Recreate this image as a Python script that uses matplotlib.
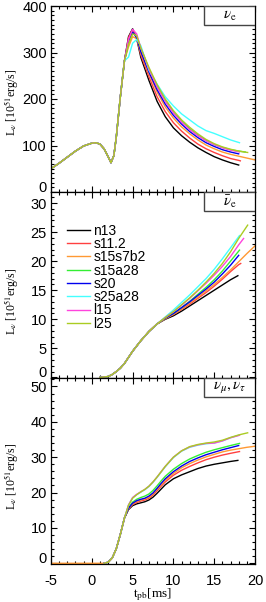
import numpy as np
import matplotlib
matplotlib.use("Agg")
import matplotlib.pyplot as plt
from matplotlib.patches import Rectangle
from matplotlib.ticker import MultipleLocator
import matplotlib.transforms as mtransforms

plt.rcParams["font.family"] = ["Liberation Sans", "DejaVu Sans"]
plt.rcParams["mathtext.fontset"] = "stix"
plt.rcParams["axes.unicode_minus"] = False

models = ["n13", "s11.2", "s15s7b2", "s15a28", "s20", "s25a28", "l15", "l25"]
colors = ["#000000", "#ff4040", "#ff9933", "#33ee33", "#0000ee", "#44ffff", "#ff44dd", "#aacc22"]

# nu_e : common early part, then per-model values on a grid
nue_t_rise = [-5, -4, -3, -2, -1, 0, 0.5, 1, 1.5, 2, 2.35, 2.7, 3.0, 3.5, 4.0]
nue_rise = [50, 62, 75, 88, 99, 105, 106, 103, 93, 76, 63, 78, 118, 205, 282]
nue_t_grid = [4.5, 5, 5.5, 6, 7, 8, 9, 10, 11, 12, 13, 14, 15, 16, 17, 18, 19]
nue_n13 = [334, 351, 330, 290, 240, 195, 162, 138, 121, 107, 95, 85, 76, 69, 63]
nue_s112 = [332, 349, 332, 295, 248, 205, 173, 149, 131, 116, 103, 93, 85, 78, 72, 68]
nue_s15s7b2 = [312, 334, 330, 300, 255, 215, 183, 159, 140, 125, 112, 101, 93, 86, 81, 77, 73]
nue_s15a28 = [320, 342, 335, 308, 264, 227, 197, 172, 152, 136, 122, 111, 102, 96, 91, 88]
nue_s20 = [325, 344, 332, 302, 258, 220, 189, 165, 146, 130, 117, 106, 98, 91, 86]
nue_s25a28 = [290, 320, 328, 315, 262, 232, 205, 185, 168, 155, 142, 132, 126, 119, 112]
nue_l15 = [328, 350, 340, 310, 265, 226, 195, 170, 150, 134, 121, 110, 102, 95, 90]
nue_l25 = [318, 340, 336, 310, 268, 231, 200, 175, 155, 139, 125, 113, 104, 97, 92, 88]
nue_end_t = [18, 18.2, 20, 18.8, 18, 18.1, 18.1, 19.1]
nue_end = [58, 67, 69, 86, 82, 106, 86, 85]

# anti nu_e
anue_t_rise = [1, 2, 2.5, 3, 3.5, 4, 5, 6, 7, 8]
anue_rise = [0, 0.15, 0.5, 1.0, 1.6, 2.4, 4.5, 6.3, 7.9, 9.2]
anue_t_grid = [9, 10, 11, 12, 13, 14, 15, 16, 17, 18, 19]
anue_n13 = [10.0, 10.6, 11.4, 12.3, 13.2, 14.1, 15.0, 15.9, 16.8]
anue_s112 = [10.1, 10.8, 11.7, 12.6, 13.6, 14.6, 15.7, 16.9, 18.2, 19.4]
anue_s15s7b2 = [10.1, 10.9, 11.8, 12.8, 13.8, 14.9, 16.0, 17.2, 18.5, 19.9, 21.3]
anue_s15a28 = [10.2, 11.0, 12.0, 13.1, 14.3, 15.5, 16.8, 18.3, 20.0]
anue_s20 = [10.2, 11.0, 12.0, 13.0, 14.1, 15.2, 16.4, 17.8, 19.3]
anue_s25a28 = [10.4, 11.6, 12.9, 14.2, 15.6, 17.0, 18.6, 20.4, 22.3]
anue_l15 = [10.3, 11.3, 12.4, 13.6, 14.9, 16.2, 17.6, 19.1, 20.8, 22.8]
anue_l25 = [10.3, 11.3, 12.5, 13.7, 15.0, 16.4, 17.9, 19.6, 21.6, 23.9]
anue_end_t = [17.9, 18.25, 20.2, 18.1, 18, 18.1, 18.6, 19.1]
anue_end = [17.5, 19.6, 22.9, 21.9, 21.0, 24.4, 23.9, 26.2]

# nu_mu, nu_tau
numu_t_rise = [1.5, 2, 2.5, 3, 3.5, 4]
numu_rise = [0, 0.3, 1.5, 4.1, 8.2, 12.8]
numu_t_grid = [4.5, 5, 5.5, 6, 6.5, 7, 7.5, 8, 8.5, 9, 10, 11, 12, 13, 14, 15, 16, 17, 18, 19]
numu_n13 = [15.2, 16.3, 16.8, 17.1, 17.4, 17.9, 18.7, 19.8, 21.0, 22.2, 23.9, 25.0, 25.9, 26.8, 27.5, 28.0, 28.4, 28.8]
numu_s112 = [15.4, 16.6, 17.2, 17.6, 17.9, 18.4, 19.3, 20.5, 21.8, 23.0, 24.9, 26.3, 27.4, 28.4, 29.3, 30.0, 30.6, 31.1]
numu_s15s7b2 = [15.5, 16.8, 17.5, 17.9, 18.2, 18.7, 19.6, 20.9, 22.2, 23.5, 25.4, 27.0, 28.2, 29.2, 30.1, 30.8, 31.5, 32.0, 32.4, 32.8]
numu_s15a28 = [15.7, 17.3, 18.1, 18.6, 19.0, 19.6, 20.6, 21.9, 23.3, 24.6, 26.6, 28.2, 29.5, 30.5, 31.4, 32.1, 32.7, 33.3]
numu_s20 = [15.6, 17.0, 17.7, 18.1, 18.4, 19.0, 19.9, 21.2, 22.6, 23.9, 25.9, 27.5, 28.8, 29.8, 30.7, 31.4, 32.1, 32.7]
numu_s25a28 = [16.5, 18.5, 19.4, 20.1, 20.8, 21.7, 22.9, 24.3, 25.8, 27.3, 29.9, 31.7, 32.8, 33.4, 33.8, 34.0, 34.6, 35.5]
numu_l15 = [16.5, 18.6, 19.5, 20.2, 20.9, 21.8, 23.0, 24.4, 25.9, 27.4, 30.0, 31.8, 32.9, 33.5, 33.9, 34.0, 34.6, 35.5]
numu_l25 = [16.4, 18.4, 19.4, 20.2, 20.9, 21.8, 23.0, 24.4, 25.9, 27.4, 30.0, 31.8, 33.0, 33.6, 34.0, 34.3, 34.8, 35.6, 36.3]
numu_end_t = [17.9, 18.1, 20, 18.1, 18, 18, 18.1, 19.1]
numu_end = [29.1, 31.6, 33.1, 33.9, 33.3, 36.2, 36.2, 36.9]

panels = [
    (nue_t_rise, nue_rise, nue_t_grid,
     [nue_n13, nue_s112, nue_s15s7b2, nue_s15a28, nue_s20, nue_s25a28, nue_l15, nue_l25],
     nue_end_t, nue_end, r"$\nu_{\rm e}$", (0, 400), 100, 10, 0.48),
    (anue_t_rise, anue_rise, anue_t_grid,
     [anue_n13, anue_s112, anue_s15s7b2, anue_s15a28, anue_s20, anue_s25a28, anue_l15, anue_l25],
     anue_end_t, anue_end, r"$\bar{\nu}_{\rm e}$", (-0.1, 31.9), 5, 1, 0.41),
    (numu_t_rise, numu_rise, numu_t_grid,
     [numu_n13, numu_s112, numu_s15s7b2, numu_s15a28, numu_s20, numu_s25a28, numu_l15, numu_l25],
     numu_end_t, numu_end, r"$\nu_\mu,\nu_\tau$", (-0.2, 52.4), 10, 2, 0.47),
]

fig = plt.figure(figsize=(2.66, 6.02), dpi=100)
left, width, height = 51 / 266, 204 / 266, 186 / 602
bottoms = [1 - 192 / 602, 1 - 378 / 602, 1 - 564 / 602]

for k, (t_rise, v_rise, t_grid, series, end_t, end_v, tag, ylim, major, minor, ylab_y) in enumerate(panels):
    ax = fig.add_axes([left, bottoms[k], width, height])
    for i, vals in enumerate(series):
        t = list(t_rise) + list(t_grid[:len(vals)]) + [end_t[i]]
        v = list(v_rise) + list(vals) + [end_v[i]]
        if k == 2 and models[i] == "s15s7b2":
            t = [-5] + t
            v = [0] + v
        ax.plot(t, v, color=colors[i], lw=1.0, label=models[i])

    ax.set_xlim(-5, 20)
    ax.set_ylim(*ylim)
    ax.xaxis.set_major_locator(MultipleLocator(5))
    ax.xaxis.set_minor_locator(MultipleLocator(1))
    ax.yaxis.set_major_locator(MultipleLocator(major))
    ax.yaxis.set_minor_locator(MultipleLocator(minor))
    ax.tick_params(which="both", direction="in", top=True, right=True, labelsize=10.5, width=0.8)
    ax.tick_params(which="major", length=4)
    ax.tick_params(which="minor", length=2)
    ax.tick_params(axis="y", pad=3)
    ax.tick_params(axis="x", pad=7)
    for s in ax.spines.values():
        s.set_linewidth(0.9)

    # shift the "0" label up a little as in the original
    fig.canvas.draw()
    for lab in ax.get_yticklabels():
        if lab.get_text() == "0":
            lab.set_transform(lab.get_transform() + mtransforms.ScaledTranslation(0, 4 / 72, fig.dpi_scale_trans))

    if k < 2:
        ax.tick_params(axis="x", labelbottom=False)
    else:
        ax.set_xlabel(r"t$_{\rm pb}$[ms]", family="Liberation Serif", fontsize=9.5, labelpad=-1)

    ax.set_ylabel(r"L$_\nu$ [10$^{51}$erg/s]", family="Liberation Serif", fontsize=8.5)
    ax.yaxis.set_label_coords(-0.15, ylab_y)

    ax.add_patch(Rectangle((0.75, 0.898), 0.25, 0.102, transform=ax.transAxes,
                           facecolor="white", edgecolor="#444444", lw=1.0, zorder=5))
    ax.text(0.875, 0.949, tag, transform=ax.transAxes, ha="center", va="center",
            fontsize=11, zorder=6)

    if k == 1:
        ax.legend(loc="upper left", bbox_to_anchor=(0.078, 0.83), frameon=False,
                  fontsize=10, labelspacing=-0.05, handlelength=1.65, handletextpad=0.25,
                  borderpad=0, borderaxespad=0)

fig.savefig("out.png", dpi=100)
